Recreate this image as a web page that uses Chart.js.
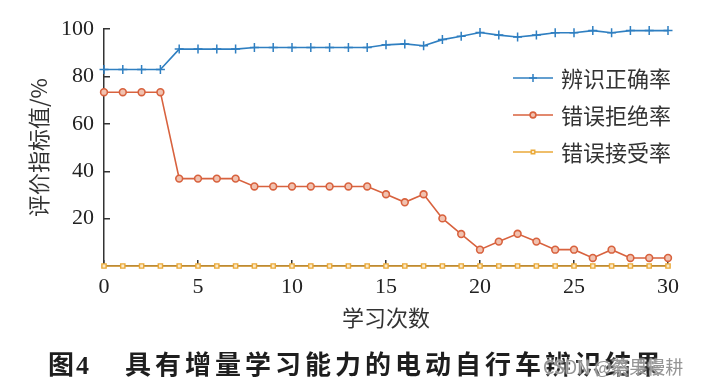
<!DOCTYPE html>
<html>
<head>
<meta charset="utf-8">
<script src="https://cdn.jsdelivr.net/npm/chart.js@4.4.1/dist/chart.umd.min.js"></script>
<style>
  html, body { margin: 0; padding: 0; background: #fff; }
  #wrap { position: relative; width: 708px; height: 385px; overflow: hidden; }
  #caption {
    position: absolute; left: 48px; top: 350px;
    font: bold 26px "Liberation Serif", "Noto Sans CJK SC", serif;
    color: #1e1e1e; white-space: nowrap; line-height: 32px;
  }
  #caption span.fig { margin-right: 34px; letter-spacing: 2px; }
  #caption span.txt { letter-spacing: 4px; }
  #mark {
    position: absolute; left: 543px; top: 353px;
    font: 18px "Noto Sans CJK SC", sans-serif;
    color: rgba(130, 130, 130, 0.85); white-space: nowrap; line-height: 26px;
    text-shadow: 0 0 2px #fff, 0 0 2px #fff;
  }
</style>
</head>
<body>
<div id="wrap">
  <canvas id="resultChart" width="708" height="385"></canvas>
  <div id="caption"><span class="fig">图4</span><span class="txt">具有增量学习能力的电动自行车辨识结果</span></div>
  <div id="mark">CSDN @蔡果慢耕</div>
</div>
<script>
const studyCounts = [0, 1, 2, 3, 4, 5, 6, 7, 8, 9, 10, 11, 12, 13, 14, 15, 16, 17, 18, 19, 20, 21, 22, 23, 24, 25, 26, 27, 28, 29, 30];
const seriesNames = ['辨识正确率', '错误拒绝率', '错误接受率'];
const correctRate = [83, 83, 83, 83, 91.6, 91.6, 91.6, 91.6, 92.3, 92.3, 92.3, 92.3, 92.3, 92.3, 92.3, 93.4, 93.8, 93, 95.6, 97, 98.6, 97.5, 96.7, 97.5, 98.5, 98.5, 99.4, 98.5, 99.4, 99.4, 99.4];
const falseReject = [73.4, 73.4, 73.4, 73.4, 36.9, 36.9, 36.9, 36.9, 33.6, 33.6, 33.6, 33.6, 33.6, 33.6, 33.6, 30.3, 26.9, 30.3, 20.1, 13.5, 6.9, 10.3, 13.6, 10.3, 6.9, 6.9, 3.4, 6.9, 3.4, 3.4, 3.4];
const falseAccept = [0, 0, 0, 0, 0, 0, 0, 0, 0, 0, 0, 0, 0, 0, 0, 0, 0, 0, 0, 0, 0, 0, 0, 0, 0, 0, 0, 0, 0, 0, 0];
const xTicks = [0, 5, 10, 15, 20, 25, 30];
const yTicks = [20, 40, 60, 80, 100];

const BLUE = '#2f7fc1';
const RED = '#d8623e';
const YELLOW = '#eaa938';

function toPoints(values) {
  return values.map((v, i) => ({ x: studyCounts[i], y: v }));
}

// legend drawn by hand, right side of the plot
const legendPlugin = {
  id: 'sideLegend',
  afterDraw(chart) {
    const c = chart.ctx;
    const rows = [78, 115, 152];
    chart.data.datasets.forEach((ds, i) => {
      const y = rows[i];
      c.save();
      c.strokeStyle = ds.borderColor;
      c.lineWidth = ds.borderWidth;
      c.beginPath();
      c.moveTo(513, y);
      c.lineTo(553, y);
      c.stroke();
      c.strokeStyle = ds.pointBorderColor;
      c.fillStyle = ds.backgroundColor;
      c.lineWidth = ds.pointBorderWidth;
      Chart.helpers.drawPoint(c, { pointStyle: ds.pointStyle, radius: ds.pointRadius - 0.5, borderWidth: ds.pointBorderWidth }, 533, y);
      c.fillStyle = '#333';
      c.font = '22px "Noto Sans CJK SC"';
      c.textBaseline = 'middle';
      c.fillText(ds.label, 561, y + 1);
      c.restore();
    });
  }
};

const ctx = document.getElementById('resultChart').getContext('2d');

const data = {
  datasets: [
    {
      label: seriesNames[0],
      data: toPoints(correctRate),
      borderColor: BLUE,
      backgroundColor: BLUE,
      borderWidth: 1.6,
      pointStyle: 'cross',
      pointRadius: 4.5,
      pointBorderWidth: 1.5,
      pointBorderColor: BLUE
    },
    {
      label: seriesNames[1],
      data: toPoints(falseReject),
      borderColor: RED,
      backgroundColor: '#f1c2b0',
      borderWidth: 1.6,
      pointStyle: 'circle',
      pointRadius: 3.4,
      pointBorderWidth: 1.6,
      pointBorderColor: RED
    },
    {
      label: seriesNames[2],
      data: toPoints(falseAccept),
      borderColor: YELLOW,
      backgroundColor: '#fbeacb',
      borderWidth: 1.6,
      pointStyle: 'rect',
      pointRadius: 3,
      pointBorderWidth: 1.4,
      pointBorderColor: YELLOW
    }
  ]
};

const tickFont = { family: '"Liberation Serif", serif', size: 22 };

const options = {
  responsive: false,
  animation: false,
  clip: false,
  layout: {
    padding: { top: 24, right: 40, bottom: 0, left: 0 }
  },
  scales: {
    x: {
      type: 'linear',
      min: 0,
      max: 30,
      afterBuildTicks: function (axis) {
        axis.ticks = xTicks.map(v => ({ value: v }));
      },
      afterFit: function (axis) {
        axis.height = 119;
      },
      border: { display: true, color: '#333', width: 1.5 },
      grid: { drawOnChartArea: false, tickLength: -6, color: '#333', lineWidth: 1.5 },
      ticks: { color: '#222', font: tickFont, padding: 14, maxRotation: 0 },
      title: {
        display: true,
        text: '学习次数',
        color: '#333',
        font: { family: '"Noto Sans CJK SC"', size: 22 },
        padding: { bottom: 54 }
      }
    },
    y: {
      min: 0,
      max: 100,
      afterBuildTicks: function (axis) {
        axis.ticks = yTicks.map(v => ({ value: v }));
      },
      afterFit: function (axis) {
        axis.width = 104;
      },
      border: { display: true, color: '#333', width: 1.5 },
      grid: { drawOnChartArea: false, tickLength: -6, color: '#333', lineWidth: 1.5 },
      ticks: { color: '#222', font: tickFont, padding: 16 },
      title: {
        display: true,
        text: '评价指标值/%',
        color: '#333',
        font: { family: '"Noto Sans CJK SC"', size: 22 },
        padding: { top: 25 }
      }
    }
  },
  plugins: {
    legend: { display: false },
    tooltip: { enabled: false }
  }
};

window.resultChart = new Chart(ctx, {
  type: 'line',
  data: data,
  options: options,
  plugins: [legendPlugin]
});
</script>
</body>
</html>
